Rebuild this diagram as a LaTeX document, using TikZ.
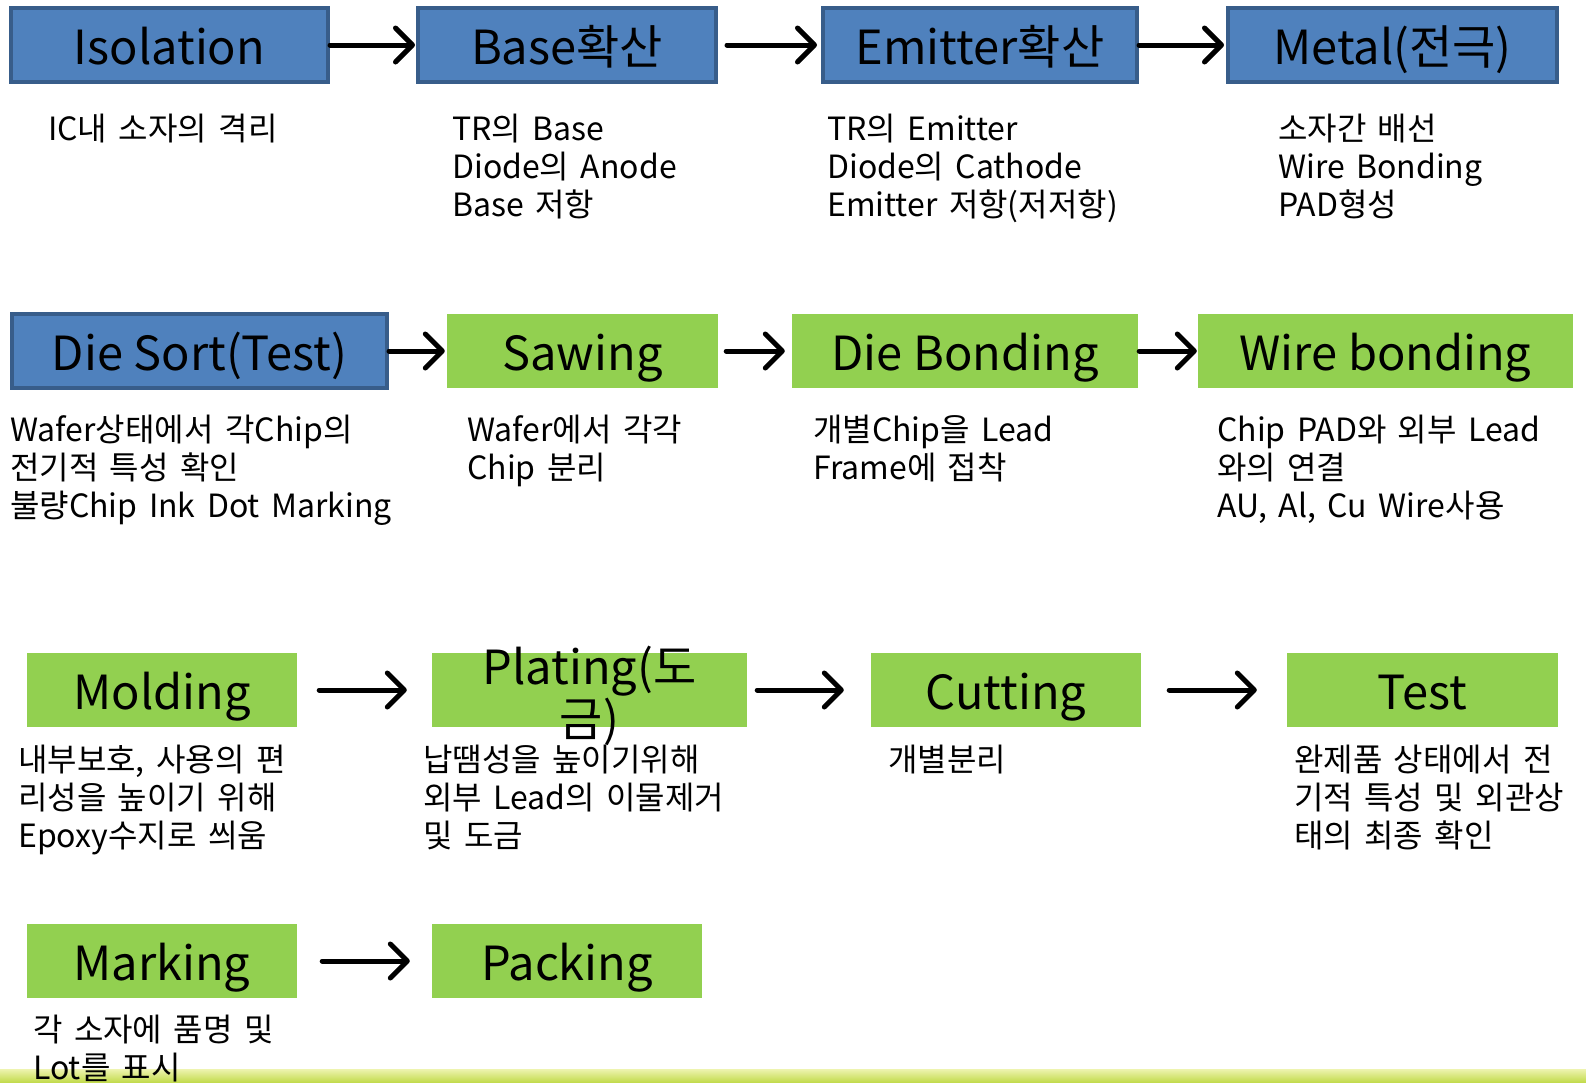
\documentclass[tikz,border=0pt]{standalone}
\usepackage{fontspec}
\setmainfont{Noto Sans CJK KR}
\newfontfamily\descfont[WordSpace=1.6]{Noto Sans CJK KR}
\usetikzlibrary{positioning,arrows.meta}

\definecolor{stepblue}{HTML}{4F81BD}
\definecolor{stepblueline}{HTML}{385D8A}
\definecolor{stepgreen}{HTML}{92D050}
\definecolor{barlight}{HTML}{EEF4B0}
\definecolor{bardark}{HTML}{C3DB4E}

\begin{document}
\begin{tikzpicture}[x=1pt, y=-1pt,
    bluenode/.style={rectangle, draw=stepblueline, fill=stepblue, line width=4pt, minimum height=74pt, inner sep=0pt, text height=44pt, text depth=5pt, font=\fontsize{47}{52}\selectfont},
    greennode/.style={rectangle, fill=stepgreen, minimum height=74pt, inner sep=0pt, text height=44pt, text depth=5pt, font=\fontsize{47}{52}\selectfont},
    descnode/.style={anchor=north west, align=left, inner sep=0pt, font=\descfont\fontsize{32}{38}\selectfont},
    flow/.style={-{Straight Barb[length=17pt, width=34pt, round]}, line width=5pt, line cap=round}
   ]
   \useasboundingbox (0,0) rectangle (1586,1082);
   \shade[top color=barlight, bottom color=bardark] (0,1069) rectangle (1586,1082);

   % front end
   \node[bluenode, minimum width=317pt] (isolation) at (169.5,45)  {Isolation};
   \node[bluenode, minimum width=298pt] (base)      at (567,45)    {Base확산};
   \node[bluenode, minimum width=314pt] (emitter)   at (980,45)    {Emitter확산};
   \node[bluenode, minimum width=329pt] (metal)     at (1392.5,45) {Metal(전극)};

   \node[descnode] (isolationtxt) at (48,114)   {IC내 소자의 격리};
   \node[descnode] (basetxt)      at (452,114)  {TR의 Base\\Diode의 Anode\\Base 저항};
   \node[descnode] (emittertxt)   at (827,114)  {TR의 Emitter\\Diode의 Cathode\\Emitter 저항(저저항)};
   \node[descnode] (metaltxt)     at (1278,114) {소자간 배선\\Wire Bonding\\PAD형성};

   % sorting and assembly
   \node[bluenode, minimum width=375pt]  (diesort)  at (199.5,351)  {Die Sort(Test)};
   \node[greennode, minimum width=271pt] (sawing)   at (582.5,351)  {Sawing};
   \node[greennode, minimum width=346pt] (diebond)  at (965,351)    {Die Bonding};
   \node[greennode, minimum width=375pt] (wirebond) at (1385.5,351) {Wire bonding};

   \node[descnode] (diesorttxt)  at (10,415)   {Wafer상태에서 각Chip의\\전기적 특성 확인\\불량Chip Ink Dot Marking};
   \node[descnode] (sawingtxt)   at (467,415)  {Wafer에서 각각\\Chip 분리};
   \node[descnode] (diebondtxt)  at (813,415)  {개별Chip을 Lead\\Frame에 접착};
   \node[descnode] (wirebondtxt) at (1217,415) {Chip PAD와 외부 Lead\\와의 연결\\AU, Al, Cu Wire사용};

   % packaging
   \node[greennode, minimum width=270pt] (molding) at (162,690)    {Molding};
   \node[greennode, minimum width=315pt] (plating) at (589.5,690)  {};
   \node[font=\fontsize{47}{52}\selectfont, align=center, inner sep=0pt, yshift=-6pt] (platingtitle) at (plating.center) {Plating(도\\금)};
   \node[greennode, minimum width=270pt] (cutting) at (1006,690)   {Cutting};
   \node[greennode, minimum width=271pt] (test)    at (1422.5,690) {Test};

   \node[descnode] (moldingtxt) at (18,745)   {내부보호, 사용의 편\\리성을 높이기 위해\\Epoxy수지로 씌움};
   \node[descnode] (platingtxt) at (423,745)  {납땜성을 높이기위해\\외부 Lead의 이물제거\\및 도금};
   \node[descnode] (cuttingtxt) at (888,745)  {개별분리};
   \node[descnode] (testtxt)    at (1294,745) {완제품 상태에서 전\\기적 특성 및 외관상\\태의 최종 확인};

   \node[greennode, minimum width=270pt] (marking) at (162,961) {Marking};
   \node[greennode, minimum width=270pt] (packing) at (567,961) {Packing};

   \node[descnode] (markingtxt) at (33,1015) {각 소자에 품명 및\\Lot를 표시};

  \draw[flow, shorten >=1pt] (isolation.east) -- (base.west);
  \draw[flow, shorten <=9pt, shorten >=4pt] (base.east) -- (emitter.west);
  \draw[flow, shorten >=2pt] (emitter.east) -- (metal.west);
  \draw[flow, shorten >=2pt] (diesort.east) -- (sawing.west);
  \draw[flow, shorten <=8pt, shorten >=7pt] (sawing.east) -- (diebond.west);
  \draw[flow, shorten <=1pt, shorten >=1pt] (diebond.east) -- (wirebond.west);
  \draw[flow, shorten <=22pt, shorten >=25pt] (molding.east) -- (plating.west);
  \draw[flow, shorten <=10pt, shorten >=27pt] (plating.east) -- (cutting.west);
  \draw[flow, shorten <=28pt, shorten >=30pt] (cutting.east) -- (test.west);
  \draw[flow, shorten <=25pt, shorten >=22pt] (marking.east) -- (packing.west);
 \end{tikzpicture}
\end{document}
